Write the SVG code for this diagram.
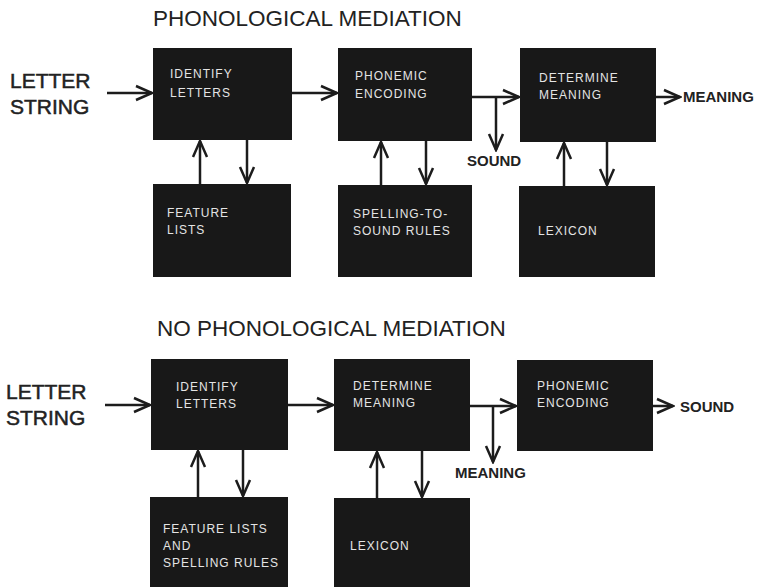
<svg xmlns="http://www.w3.org/2000/svg" width="765" height="587" viewBox="0 0 765 587">
<defs>
<style>
.box{fill:#181818}
.bt{font-family:"Liberation Sans",Arial,sans-serif;font-size:12px;letter-spacing:1px;fill:#e4e4e4}
.title{font-family:"Liberation Sans",Arial,sans-serif;font-size:22.5px;fill:#222}
.big{font-family:"Liberation Sans",Arial,sans-serif;font-size:21px;fill:#222;stroke:#222;stroke-width:0.5}
.lbl{font-family:"Liberation Sans",Arial,sans-serif;font-size:15px;font-weight:bold;fill:#222}
.c{stroke:#1c1c1c;stroke-width:2.5;fill:none;marker-end:url(#ah)}
</style>
<marker id="ah" markerUnits="userSpaceOnUse" viewBox="-18 -9 20 18" markerWidth="20" markerHeight="18" refX="0" refY="0" orient="auto">
<path d="M-16,-7 L0,0 L-16,7" stroke="#1c1c1c" stroke-width="2.5" fill="none"/>
</marker>
</defs>
<rect width="765" height="587" fill="#fff"/>

<text class="title" x="153" y="26">PHONOLOGICAL MEDIATION</text>
<text class="title" x="157" y="336">NO PHONOLOGICAL MEDIATION</text>

<g id="input-top"><text class="big" x="10" y="88">LETTER</text><text class="big" x="10" y="114">STRING</text></g>
<g id="input-bottom"><text class="big" x="6" y="399">LETTER</text><text class="big" x="6" y="425">STRING</text></g>

<g id="a1"><rect class="box" x="153" y="48" width="139" height="92"/><text class="bt" x="170" y="78">IDENTIFY</text><text class="bt" x="170" y="97">LETTERS</text></g>
<g id="a2"><rect class="box" x="338" y="48" width="134" height="93"/><text class="bt" x="355" y="80">PHONEMIC</text><text class="bt" x="355" y="98">ENCODING</text></g>
<g id="a3"><rect class="box" x="520" y="48" width="136" height="94"/><text class="bt" x="539" y="82">DETERMINE</text><text class="bt" x="539" y="99">MEANING</text></g>
<g id="b1"><rect class="box" x="153" y="184" width="138" height="93"/><text class="bt" x="167" y="217">FEATURE</text><text class="bt" x="167" y="234">LISTS</text></g>
<g id="b2"><rect class="box" x="338" y="185" width="134" height="92"/><text class="bt" x="353" y="218" letter-spacing="1.8">SPELLING-TO-</text><text class="bt" x="353" y="235">SOUND RULES</text></g>
<g id="b3"><rect class="box" x="519" y="186" width="136" height="91"/><text class="bt" x="538" y="235">LEXICON</text></g>

<g id="c1"><rect class="box" x="151" y="359" width="137" height="91"/><text class="bt" x="176" y="391">IDENTIFY</text><text class="bt" x="176" y="408">LETTERS</text></g>
<g id="c2"><rect class="box" x="334" y="359" width="136" height="92"/><text class="bt" x="353" y="390">DETERMINE</text><text class="bt" x="353" y="407">MEANING</text></g>
<g id="c3"><rect class="box" x="517" y="360" width="136" height="91"/><text class="bt" x="537" y="390">PHONEMIC</text><text class="bt" x="537" y="407">ENCODING</text></g>
<g id="d1"><rect class="box" x="150" y="497" width="138" height="92"/><text class="bt" x="163" y="533">FEATURE LISTS</text><text class="bt" x="163" y="550">AND</text><text class="bt" x="163" y="567">SPELLING RULES</text></g>
<g id="d2"><rect class="box" x="334" y="498" width="136" height="91"/><text class="bt" x="350" y="550">LEXICON</text></g>

<g id="out-labels">
<text class="lbl" x="467" y="166">SOUND</text>
<text class="lbl" x="683" y="102">MEANING</text>
<text class="lbl" x="455" y="478">MEANING</text>
<text class="lbl" x="680" y="412">SOUND</text>
</g>

<g id="connectors">
<path class="c" d="M107,93 H152"/>
<path class="c" d="M292,93 H337"/>
<path class="c" d="M472,97 H519"/>
<path class="c" d="M496,97 V150"/>
<path class="c" d="M656,97 H680"/>
<path class="c" d="M200,184 V141"/>
<path class="c" d="M247,140 V183"/>
<path class="c" d="M381,185 V142"/>
<path class="c" d="M426,141 V184"/>
<path class="c" d="M564,186 V143"/>
<path class="c" d="M607,142 V185"/>

<path class="c" d="M105,405 H150"/>
<path class="c" d="M288,405 H333"/>
<path class="c" d="M470,406 H516"/>
<path class="c" d="M493,406 V462"/>
<path class="c" d="M653,406 H673"/>
<path class="c" d="M198,497 V451"/>
<path class="c" d="M243,450 V496"/>
<path class="c" d="M377,498 V452"/>
<path class="c" d="M422,451 V497"/>
</g>
</svg>
